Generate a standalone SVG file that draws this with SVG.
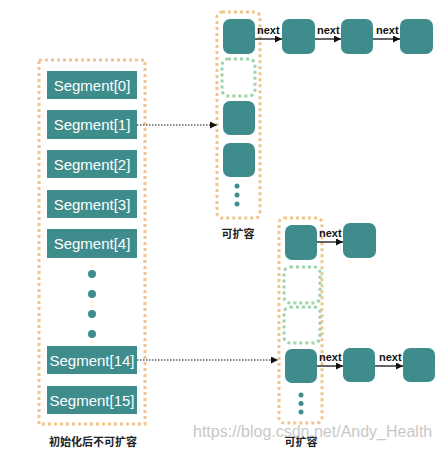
<svg xmlns="http://www.w3.org/2000/svg" width="439" height="450" viewBox="0 0 439 450">
<style>
.box{fill:none;stroke:#EDC690;stroke-width:3;stroke-dasharray:3 3}
.empty{fill:none;stroke:#9FD3AA;stroke-width:3;stroke-dasharray:3 3}
.seg{fill:#3E8C8C}
.seglbl{fill:#fff;font-family:"Liberation Sans",Arial,sans-serif;font-size:15px;text-anchor:middle}
.node{fill:#3E8C8C}
.dot{fill:#3E8C8C}
.nx{font-family:"Liberation Sans",Arial,sans-serif;font-size:11px;font-weight:bold;fill:#111}
.cap{font-family:"Noto Sans CJK SC",sans-serif;font-size:11px;font-weight:bold;fill:#222;text-anchor:middle}
.link{stroke:#111;stroke-width:1.3;fill:none}
.ptr{stroke:#111;stroke-width:1.2;fill:none;stroke-dasharray:1.5 1.5}
.wm{font-family:"Liberation Sans",Arial,sans-serif;font-size:16px;fill:#C8C8C8}
</style>
<defs>
<marker id="ah" viewBox="0 0 10 10" refX="10" refY="5" markerWidth="7" markerHeight="7" markerUnits="userSpaceOnUse" orient="auto">
<path d="M0,0 L10,5 L0,10 z" fill="#111"/>
</marker>
</defs>

<g id="segments">
<rect class="box" x="39" y="60" width="106" height="364"/>
<g id="seg0"><rect class="seg" x="47" y="71" width="90" height="28"/><text class="seglbl" x="92" y="90.5">Segment[0]</text></g>
<g id="seg1"><rect class="seg" x="47" y="110" width="90" height="29"/><text class="seglbl" x="92" y="130">Segment[1]</text></g>
<g id="seg2"><rect class="seg" x="47" y="150" width="90" height="28"/><text class="seglbl" x="92" y="169.5">Segment[2]</text></g>
<g id="seg3"><rect class="seg" x="47" y="190" width="90" height="28"/><text class="seglbl" x="92" y="209.5">Segment[3]</text></g>
<g id="seg4"><rect class="seg" x="47" y="229" width="90" height="29"/><text class="seglbl" x="92" y="249">Segment[4]</text></g>
<circle class="dot" cx="92" cy="274" r="4"/>
<circle class="dot" cx="92" cy="294" r="4"/>
<circle class="dot" cx="92" cy="314" r="4"/>
<circle class="dot" cx="92" cy="334" r="4"/>
<g id="seg14"><rect class="seg" x="47" y="346" width="90" height="28"/><text class="seglbl" x="92" y="365.5">Segment[14]</text></g>
<g id="seg15"><rect class="seg" x="47" y="386" width="90" height="28"/><text class="seglbl" x="92" y="405.5">Segment[15]</text></g>
<text class="cap" x="93" y="446">初始化后不可扩容</text>
</g>

<g id="table1">
<rect class="box" x="217" y="12" width="43" height="206" rx="5"/>
<rect class="node" x="223" y="19" width="32" height="35" rx="7"/>
<rect class="empty" x="222" y="59" width="33" height="37" rx="6"/>
<rect class="node" x="223" y="101" width="32" height="34" rx="7"/>
<rect class="node" x="223" y="143" width="32" height="34" rx="7"/>
<circle class="dot" cx="237" cy="186" r="2.5"/>
<circle class="dot" cx="237" cy="195" r="2.5"/>
<circle class="dot" cx="237" cy="204" r="2.5"/>
<text class="cap" x="238" y="238">可扩容</text>
</g>
<g id="chain1">
<rect class="node" x="282" y="19" width="33" height="35" rx="7"/>
<rect class="node" x="341" y="19" width="32" height="35" rx="7"/>
<rect class="node" x="400" y="19" width="33" height="35" rx="7"/>
</g>

<g id="table2">
<rect class="box" x="279" y="218" width="43" height="205" rx="5"/>
<rect class="node" x="285" y="225" width="32" height="35" rx="7"/>
<rect class="empty" x="284" y="267" width="36" height="36" rx="6"/>
<rect class="empty" x="284" y="307" width="36" height="36" rx="6"/>
<rect class="node" x="285" y="349" width="32" height="34" rx="7"/>
<circle class="dot" cx="301" cy="395" r="2.5"/>
<circle class="dot" cx="301" cy="403.5" r="2.5"/>
<circle class="dot" cx="301" cy="412" r="2.5"/>
<text class="cap" x="301" y="446">可扩容</text>
</g>
<g id="chain2">
<rect class="node" x="343" y="223" width="33" height="35" rx="7"/>
<rect class="node" x="343" y="348" width="32" height="34" rx="7"/>
<rect class="node" x="403" y="348" width="32" height="34" rx="7"/>
</g>

<g id="connectors">
<line class="ptr" x1="137" y1="125" x2="217" y2="125" marker-end="url(#ah)"/>
<line class="ptr" x1="137" y1="360" x2="278" y2="360" marker-end="url(#ah)"/>
<line class="link" x1="255" y1="39" x2="282" y2="39" marker-end="url(#ah)"/>
<text class="nx" x="257" y="34">next</text>
<line class="link" x1="315" y1="39" x2="341" y2="39" marker-end="url(#ah)"/>
<text class="nx" x="317" y="34">next</text>
<line class="link" x1="373" y1="39" x2="400" y2="39" marker-end="url(#ah)"/>
<text class="nx" x="376" y="34">next</text>
<line class="link" x1="317" y1="242" x2="343" y2="242" marker-end="url(#ah)"/>
<text class="nx" x="319" y="237">next</text>
<line class="link" x1="317" y1="366" x2="343" y2="366" marker-end="url(#ah)"/>
<text class="nx" x="319" y="361">next</text>
<line class="link" x1="375" y1="366" x2="403" y2="366" marker-end="url(#ah)"/>
<text class="nx" x="379" y="361">next</text>
</g>

<text class="wm" x="193" y="437">https://blog.csdn.net/Andy_Health</text>
</svg>
